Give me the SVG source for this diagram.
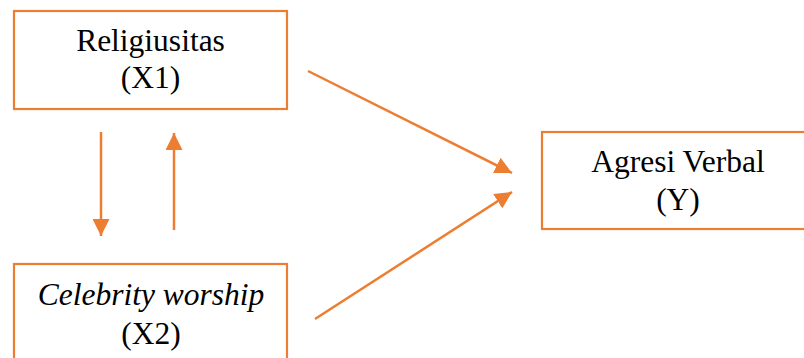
<svg xmlns="http://www.w3.org/2000/svg" width="804" height="358" viewBox="0 0 804 358">
<style>
.box{fill:#fff;stroke:#ED7D31;stroke-width:2.2}
.t{font-family:"Liberation Serif","Times New Roman",Times,serif;font-size:31.5px;fill:#000;text-anchor:middle}
.i{font-style:italic}
.c{stroke:#ED7D31;stroke-width:2.5;fill:none}
</style>
<defs>
<marker id="ah" markerUnits="userSpaceOnUse" markerWidth="17" markerHeight="17" viewBox="0 0 17 17" refX="17" refY="8.5" orient="auto">
<path d="M0,0 L17,8.5 L0,17 z" fill="#ED7D31"/>
</marker>
</defs>
<g id="x1">
<rect class="box" x="14" y="11" width="273" height="98"/>
<text class="t" x="150.5" y="51">Religiusitas</text>
<text class="t" x="150.5" y="88">(X1)</text>
</g>
<g id="y">
<rect class="box" x="542" y="132" width="270" height="97"/>
<text class="t" x="678" y="172">Agresi Verbal</text>
<text class="t" x="678" y="210">(Y)</text>
</g>
<g id="x2">
<rect class="box" x="14" y="264" width="273" height="110"/>
<text class="t i" x="151" y="305">Celebrity worship</text>
<text class="t" x="151" y="344">(X2)</text>
</g>
<g id="connectors">
<line class="c" x1="101" y1="132" x2="101" y2="236" marker-end="url(#ah)"/>
<line class="c" x1="174" y1="230" x2="174" y2="133" marker-end="url(#ah)"/>
<line class="c" x1="308" y1="71" x2="512" y2="173" marker-end="url(#ah)"/>
<line class="c" x1="315" y1="319" x2="512" y2="192" marker-end="url(#ah)"/>
</g>
</svg>
